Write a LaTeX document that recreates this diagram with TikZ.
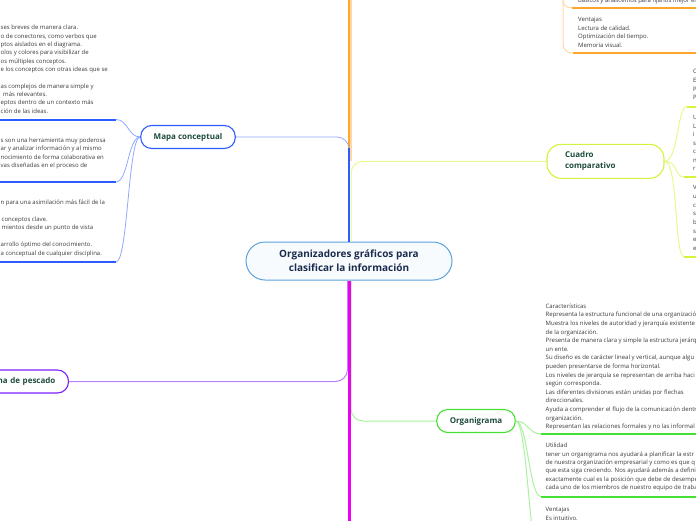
\documentclass[tikz,border=0pt]{standalone}
\usepackage{fontspec}
\setmainfont{Open Sans}
\usepackage{tikz}
\usetikzlibrary{positioning,calc}

\definecolor{mapblue}{HTML}{2F5CFF}
\definecolor{mapsoft}{HTML}{8EAAFF}
\definecolor{orgorange}{HTML}{FFA52E}
\definecolor{orgsoft}{HTML}{FFD8A6}
\definecolor{cuadlime}{HTML}{D2F43A}
\definecolor{cuadsoft}{HTML}{E4FA8E}
\definecolor{orggreen}{HTML}{46E034}
\definecolor{orgsoftg}{HTML}{A8F39C}
\definecolor{espviolet}{HTML}{7B1FFF}
\definecolor{espsoft}{HTML}{B99CFF}
\definecolor{trunkmag}{HTML}{F000F0}
\definecolor{rootline}{HTML}{5CA2DC}
\definecolor{rootfill}{HTML}{F7FBFE}
\definecolor{titlenavy}{HTML}{1B2B4F}
\definecolor{topicgreen}{HTML}{1D4B3C}
\definecolor{notegrey}{HTML}{3A3A3A}

\begin{document}
\begin{tikzpicture}[
  x=1pt, y=-1pt,
  root/.style={draw=rootline, fill=rootfill, line width=1pt, rounded corners=19pt,
               minimum width=206pt, minimum height=38pt, align=center,
               text=titlenavy, font=\fontsize{10}{14}\selectfont\bfseries},
  topic/.style={draw, fill=white, line width=1.1pt, rounded corners=11pt,
                minimum height=23pt, inner xsep=13pt, text=topicgreen,
                font=\fontsize{8}{11}\selectfont\bfseries},
  % notes are placed by the baseline of their last line
  note/.style={anchor=base west, inner sep=0pt, align=left, text=notegrey,
               font=\fontsize{6}{8.5}\selectfont},
  bar/.style={line width=2pt},
  twig/.style={line width=0.8pt},
  trunk/.style={line width=3pt}]

\useasboundingbox (0,0) rectangle (696,520);
\clip (0,0) rectangle (696,520);

% centre and main topics
\node[root] (root) at (349,261) {Organizadores gráficos para\\clasificar la información};
\node[topic, draw=mapblue] (map) at (188,137) {Mapa conceptual};
\node[topic, draw=cuadlime, align=left, text width=81pt, inner xsep=18pt,
      minimum height=34pt, rounded corners=14pt] (cuadro) at (605.5,161.3)
  {Cuadro\\comparativo};
\node[topic, draw=orggreen] (org) at (476,421) {Organigrama};
\node[topic, draw=espviolet, text width=70pt, align=right, anchor=east] (espina)
  at (69,381.5) {na de pescado};
\coordinate (otrunk) at (349,-10);
\coordinate (mtail) at (349,530);

% branches from the centre
\draw[orgsoft, line width=2pt] ([xshift=1.8pt]otrunk) -- ($(root.north |- cuadro.west)+(1.8,0)$);
\draw[trunk, orgorange, line width=2.4pt] (otrunk) -- ($(root.north |- map.east)+(0,12)$);
\draw[twig, cuadsoft, line width=1pt, rounded corners=12pt] ([xshift=2pt]root.north) |- (cuadro.west);
\draw[twig, mapsoft, rounded corners=12pt] (map.east) -| (root.north);
\draw[trunk, mapblue, line width=2.6pt] ($(root.north |- map.east)+(0,11)$) -- (root.north);
\draw[twig, espviolet!55, line width=1pt, rounded corners=12pt] (espina.east) -| ([xshift=-1.5pt]root.south);
\draw[twig, orgsoftg, line width=1pt, rounded corners=12pt] ([xshift=2pt]root.south) |- (org.west);
\draw[trunk, trunkmag] (root.south) -- (mtail);

% mapa conceptual
\node[note, font=\fontsize{6}{8.34}\selectfont] (m1t) at (0.5,113.3)
  {ses breves de manera clara.\\o de conectores, como verbos que\\ptos aislados en el diagrama.\\
   olos y colores para visibilizar de\\os múltiples conceptos.\\e los conceptos con otras ideas que se\\ \\
   as complejos de manera simple y\\\hspace*{2.5pt}más relevantes.\\eptos dentro de un contexto más\\
   ción de las ideas.};
\node[note] (m2t) at (0.5,167.8)
  {s son una herramienta muy poderosa\\ar y analizar información y al mismo\\
   nocimiento de forma colaborativa en\\vas diseñadas en el proceso de};
\node[note] (m3t) at (0.5,255.3)
  {n para una asimilación más fácil de la\\ \\\hspace*{1pt}conceptos clave.\\
   \hspace*{1pt}mientos desde un punto de vista\\ \\arrollo óptimo del conocimiento.\\
   a conceptual de cualquier disciplina.};
\coordinate (m1) at (116,119.5);
\coordinate (m2) at (116,182);
\coordinate (m3) at (116,262);
\foreach \m in {m1, m2, m3} {
  \draw[bar, mapblue] (\m) -- ++(-125,0);
  \draw[twig, mapsoft] (\m) .. controls +(12,0) and +(-12,0) .. (map.west);
}

% cuadro comparativo
\node[note, font=\fontsize{6}{8.7}\selectfont] (c1t) at (693,99.7) {C\\E\\P\\P};
\node[note] (c2t) at (693,170.6) {U\\L\\i\\s\\c\\n\\r};
\node[note, font=\fontsize{6}{8.7}\selectfont] (c3t) at (693,250.5) {V\\u\\c\\s\\b\\s\\e\\e};
\coordinate (c1) at (687,106.5);
\coordinate (c2) at (684,177);
\coordinate (c3) at (684,256.5);
\foreach \c in {c1, c2, c3} {
  \draw[bar, cuadlime] (\c) -- ++(20,0);
  \draw[twig, cuadsoft, line width=1pt] (cuadro.east) .. controls +(14,0) and +(-10,0) .. (\c);
}

% orange topic, parent above the page
\node[note] (o1t) at (578,2.6) {básicos y analicemos para fijarlos mejor en};
\node[note, font=\fontsize{6}{8.57}\selectfont] (o2t) at (578,47.3)
  {Ventajas\\Lectura de calidad.\\Optimización del tiempo.\\Memoria visual.};
\coordinate (otwig) at (563,-10);
\coordinate (o1) at (572,7.5);
\coordinate (o2) at (573,53);
\draw[bar, orgorange] (o1) -- ++(130,0);
\draw[bar, orgorange] (o2) -- ++(130,0);
\draw[twig, orgsoft, line width=1pt, rounded corners=7pt] (otwig) |- (o1);
\draw[twig, orgsoft, line width=1pt, rounded corners=9pt] (otwig) |- (o2);

% organigrama
\node[note, font=\fontsize{6}{8.61}\selectfont] (g1t) at (545.5,428.8)
  {Características\\Representa la estructura funcional de una organizació\\
   Muestra los niveles de autoridad y jerarquía existente\\de la organización.\\
   Presenta de manera clara y simple la estructura jerárq\\un ente.\\
   Su diseño es de carácter lineal y vertical, aunque algu\\pueden presentarse de forma horizontal.\\
   Los niveles de jerarquía se representan de arriba haci\\según corresponda.\\
   Las diferentes divisiones están unidas por flechas\\direccionales.\\
   Ayuda a comprender el flujo de la comunicación dentr\\organización.\\
   Representan las relaciones formales y no las informal};
\node[note, font=\fontsize{6}{8.46}\selectfont] (g2t) at (545.5,489.9)
  {Utilidad\\tener un organigrama nos ayudará a planificar la estr\\
   de nuestra organización empresarial y como es que q\\
   que esta siga creciendo. Nos ayudará además a defini\\
   exactamente cual es la posición que debe de desempe\\
   cada uno de los miembros de nuestro equipo de traba};
\node[note] (g3t) at (545.5,520.2) {Ventajas\\Es intuitivo.};
\coordinate (g1) at (541,434);
\coordinate (g2) at (541,496.5);
\coordinate (g3) at (541,562);
\foreach \g in {g1, g2, g3} {
  \draw[bar, orggreen] (\g) -- ++(160,0);
  \draw[twig, orgsoftg, line width=1pt] (org.east) .. controls +(12,0) and +(-12,0) .. (\g);
}
\end{tikzpicture}
\end{document}
